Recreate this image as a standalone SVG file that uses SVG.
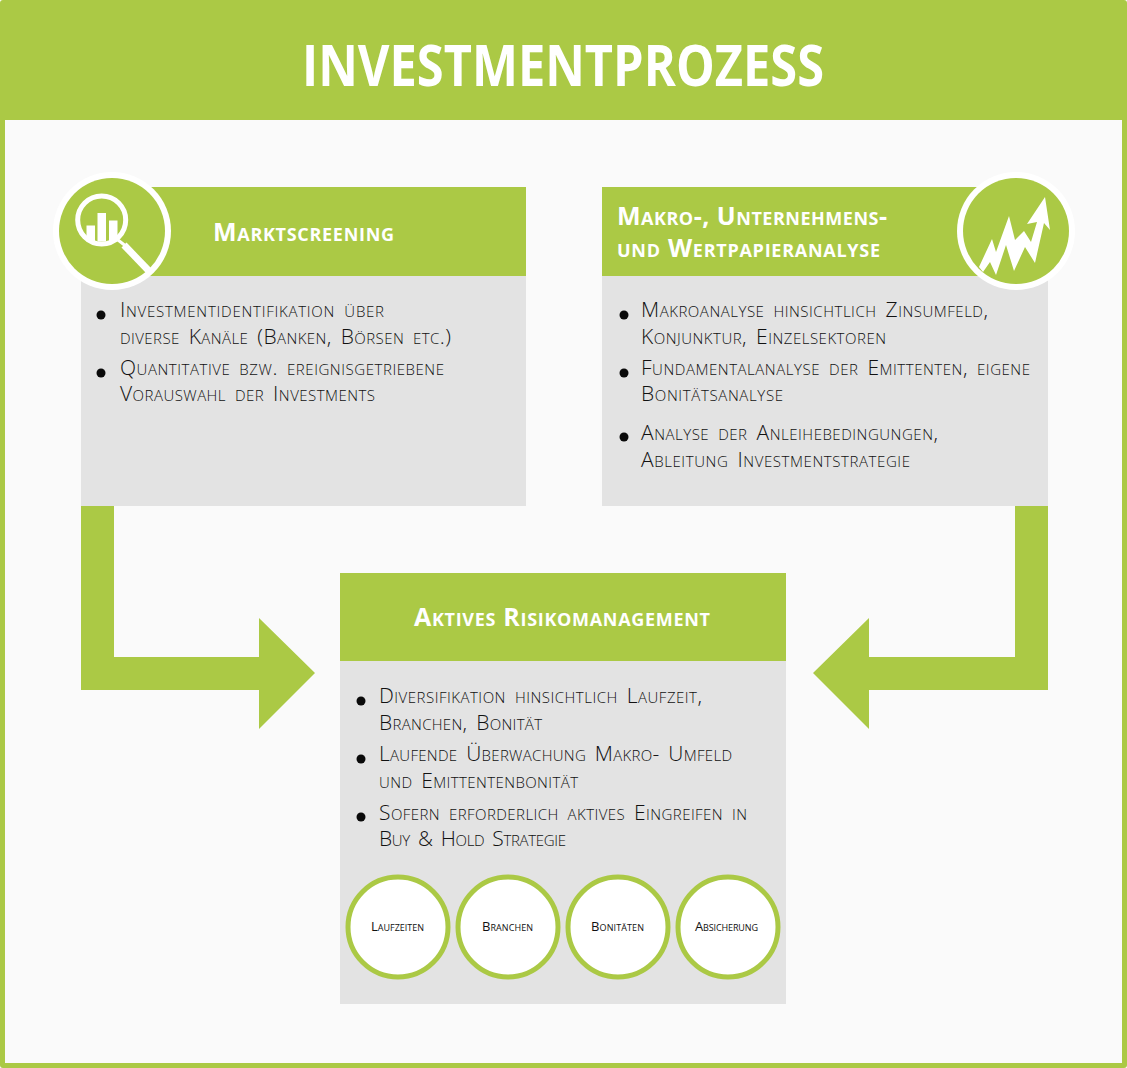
<svg xmlns="http://www.w3.org/2000/svg" width="1127" height="1068" viewBox="0 0 1127 1068">
<style>
.g{fill:#abc945}
.b{fill:#e3e3e3}
.w{fill:#fff}
text{font-family:"Open Sans","Lato","Liberation Sans",sans-serif;font-variant:small-caps}
.t{font-size:21px;font-weight:300;fill:#111;word-spacing:3px}
.h{font-size:25px;font-weight:700;fill:#fff}
.s{font-size:13px;font-weight:400;fill:#111}
.d{fill:#0a0a0a}
.c{fill:#fff;stroke:#abc945;stroke-width:5}
</style>
<rect width="1127" height="1068" rx="3" class="g"/>
<rect x="5" y="120" width="1117" height="943" fill="#fafafa"/>
<g id="title"><text x="302" y="86" textLength="522" lengthAdjust="spacingAndGlyphs" style="font-variant:normal;font-size:58px;font-weight:700;fill:#fff">INVESTMENTPROZESS</text></g>
<g id="connectors">
<polygon class="g" points="81,506 114,506 114,657 259,657 259,618 315,673 259,729 259,690 81,690"/>
<polygon class="g" points="1048,506 1015,506 1015,657 869,657 869,618 813,673 869,729 869,690 1048,690"/>
</g>
<g id="marktscreening">
<rect class="b" x="81" y="276" width="445" height="230"/>
<rect class="g" x="81" y="187" width="445" height="89"/>
<circle class="w" cx="112" cy="231" r="59"/>
<circle class="g" cx="112" cy="231" r="53"/>
<circle cx="101.7" cy="220" r="24" fill="none" stroke="#fff" stroke-width="5"/>
<rect class="w" x="86.500" y="225.500" width="8.500" height="16"/>
<rect class="w" x="97.500" y="213" width="8.500" height="28.500"/>
<rect class="w" x="109" y="220.500" width="8.500" height="21"/>
<path d="M118 240L127 247" stroke="#fff" stroke-width="3" fill="none"/>
<path d="M124 245L149 271" stroke="#fff" stroke-width="7" fill="none"/>
<text class="h" x="213" y="241" textLength="181">Marktscreening</text>
<circle class="d" cx="101" cy="315" r="4.500"/>
<circle class="d" cx="101" cy="373" r="4.500"/>
<text class="t" x="120" y="317" textLength="264">Investmentidentifikation über</text>
<text class="t" x="120" y="344" textLength="331">diverse Kanäle (Banken, Börsen etc.)</text>
<text class="t" x="120" y="375" textLength="324">Quantitative bzw. ereignisgetriebene</text>
<text class="t" x="120" y="401" textLength="255">Vorauswahl der Investments</text>
</g>
<g id="analyse">
<rect class="b" x="602" y="276" width="446" height="230"/>
<rect class="g" x="602" y="187" width="446" height="89"/>
<circle class="w" cx="1016" cy="231" r="59"/>
<circle class="g" cx="1016" cy="231" r="53"/>
<polygon class="w" points="979,267 992,239 996,252 1009,216 1015,240 1024,231 1031,242 1037,222 1027,224 1045,197 1050,230 1044,223 1035,263 1025,247 1014,271 1006,245 996,275 990,262 983,272"/>
<text class="h" x="617" y="225" textLength="270">Makro-, Unternehmens-</text>
<text class="h" x="617" y="257" textLength="263">und Wertpapieranalyse</text>
<circle class="d" cx="624" cy="315" r="4.500"/>
<circle class="d" cx="624" cy="373" r="4.500"/>
<circle class="d" cx="624" cy="437" r="4.500"/>
<text class="t" x="641" y="317" textLength="347">Makroanalyse hinsichtlich Zinsumfeld,</text>
<text class="t" x="641" y="344" textLength="245">Konjunktur, Einzelsektoren</text>
<text class="t" x="641" y="375" textLength="389">Fundamentalanalyse der Emittenten, eigene</text>
<text class="t" x="641" y="401" textLength="142">Bonitätsanalyse</text>
<text class="t" x="641" y="440" textLength="297">Analyse der Anleihebedingungen,</text>
<text class="t" x="641" y="467" textLength="269">Ableitung Investmentstrategie</text>
</g>
<g id="risikomanagement">
<rect class="b" x="340" y="661" width="446" height="343"/>
<rect class="g" x="340" y="573" width="446" height="88"/>
<text class="h" x="414" y="626" textLength="296">Aktives Risikomanagement</text>
<circle class="d" cx="361" cy="701" r="4.500"/>
<circle class="d" cx="361" cy="759" r="4.500"/>
<circle class="d" cx="361" cy="817" r="4.500"/>
<text class="t" x="379" y="703" textLength="323">Diversifikation hinsichtlich Laufzeit,</text>
<text class="t" x="379" y="730" textLength="163">Branchen, Bonität</text>
<text class="t" x="379" y="761" textLength="353">Laufende Überwachung Makro- Umfeld</text>
<text class="t" x="379" y="788" textLength="199">und Emittentenbonität</text>
<text class="t" x="379" y="820" textLength="368">Sofern erforderlich aktives Eingreifen in</text>
<text class="t" x="379" y="846" textLength="187">Buy &amp; Hold Strategie</text>
</g>
<g id="laufzeiten"><circle class="c" cx="398" cy="927" r="50"/><text class="s" x="371" y="931" textLength="53">Laufzeiten</text></g>
<g id="branchen"><circle class="c" cx="508" cy="927" r="50"/><text class="s" x="482" y="931" textLength="51">Branchen</text></g>
<g id="bonitaeten"><circle class="c" cx="618" cy="927" r="50"/><text class="s" x="591" y="931" textLength="53">Bonitäten</text></g>
<g id="absicherung"><circle class="c" cx="728" cy="927" r="50"/><text class="s" x="695" y="931" textLength="63">Absicherung</text></g>
</svg>
